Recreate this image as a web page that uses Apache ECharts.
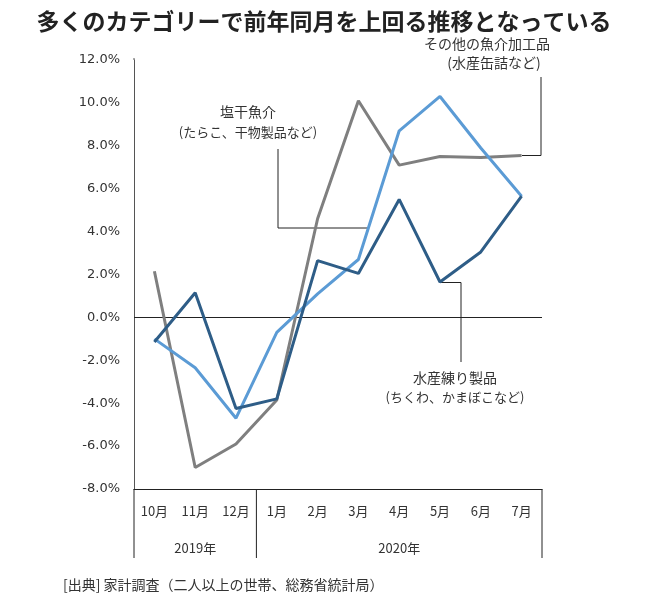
<!DOCTYPE html>
<html>
<head>
<meta charset="utf-8">
<script src="https://cdn.jsdelivr.net/npm/echarts@6/dist/echarts.min.js"></script>
<style>
html,body{margin:0;padding:0;background:#fff;}
#chart{width:650px;height:605px;}
</style>
</head>
<body>
<div id="chart"></div>
<script>
const categories = ['10月','11月','12月','1月','2月','3月','4月','5月','6月','7月'];
const otherSeafood = [2.15, -7.0, -5.9, -3.85, 4.6, 10.1, 7.1, 7.5, 7.45, 7.55];
const driedSalted = [-1.0, -2.35, -4.7, -0.7, 1.1, 2.7, 8.7, 10.3, 7.9, 5.65];
const fishPaste = [-1.15, 1.15, -4.25, -3.8, 2.65, 2.05, 5.5, 1.65, 3.05, 5.65];
const yearLabels = ['2019年', '2020年'];
const yearStarts = [0, 3];
const yearEnds = [3, 10];
const yTicks = {min: -8, max: 12, interval: 2};

const FONT = '"Noto Sans CJK JP", "Noto Sans", sans-serif';
const chart = echarts.init(document.getElementById('chart'));

const lineSeries = (name, data, color) => ({
  name, type: 'line', data, symbol: 'none',
  lineStyle: {color, width: 3}, itemStyle: {color},
  z: 3
});

chart.setOption({
  animation: false,
  textStyle: {fontFamily: FONT},
  title: {
    text: '多くのカテゴリーで前年同月を上回る推移となっている',
    left: 319, top: 5, textAlign: 'center',
    textStyle: {fontFamily: FONT, fontSize: 23, fontWeight: 'bold', color: '#222'}
  },
  grid: {left: 134, right: 108, top: 60, bottom: 116},
  xAxis: {
    type: 'category', data: categories, boundaryGap: true,
    axisLine: {onZero: false, lineStyle: {color: '#222', width: 1}},
    axisTick: {show: false},
    axisLabel: {color: '#333', fontSize: 13, margin: 16, fontFamily: FONT},
    splitLine: {show: false}
  },
  yAxis: {
    type: 'value', min: yTicks.min, max: yTicks.max, interval: yTicks.interval,
    axisLine: {show: true, lineStyle: {color: '#555', width: 1}},
    axisTick: {show: false},
    splitLine: {show: false},
    axisLabel: {color: '#333', fontSize: 13, margin: 14, fontFamily: 'Verdana, "DejaVu Sans", sans-serif',
      formatter: v => v.toFixed(1) + '%'}
  },
  series: [
    Object.assign(lineSeries('その他の魚介加工品', otherSeafood, '#7f7f7f'), {
      markLine: {silent: true, symbol: 'none', label: {show: false},
        lineStyle: {color: '#222', width: 1, type: 'solid'}, data: [{yAxis: 0}], z: 2}
    }),
    lineSeries('塩干魚介', driedSalted, '#5b9bd5'),
    lineSeries('水産練り製品', fishPaste, '#2e5d87')
  ]
});

// group dividers and year labels computed from the axis scale
const c0 = chart.convertToPixel({xAxisIndex: 0}, 0);
const c1 = chart.convertToPixel({xAxisIndex: 0}, 1);
const band = c1 - c0;
const bottomY = chart.convertToPixel({yAxisIndex: 0}, yTicks.min);
const edge = i => c0 - band / 2 + band * i;
const graphics = [];
const boundaries = [...new Set(yearStarts.concat(yearEnds))];
boundaries.forEach(b => {
  graphics.push({type: 'line', shape: {x1: edge(b), y1: bottomY, x2: edge(b), y2: bottomY + 69},
    style: {stroke: '#222', lineWidth: 1}, silent: true});
});
yearLabels.forEach((lab, i) => {
  graphics.push({type: 'text', x: (edge(yearStarts[i]) + edge(yearEnds[i])) / 2, y: bottomY + 59,
    style: {text: lab, fill: '#333', font: '13px ' + FONT, textAlign: 'center', textVerticalAlign: 'middle'}});
});

// annotations
const annText = (x, y, t, s) => ({type: 'text', x, y,
  style: {text: t, fill: '#333', font: (s || 14) + 'px ' + FONT, textAlign: 'center', textVerticalAlign: 'middle'}});
const lineStyle = {stroke: '#222', lineWidth: 1};
graphics.push(annText(248, 112, '塩干魚介', 14));
graphics.push(annText(248, 132, '(たらこ、干物製品など)', 13));
graphics.push({type: 'polyline', shape: {points: [[278, 149], [278, 228], [368, 228]]}, style: lineStyle, silent: true});
graphics.push(annText(487, 44, 'その他の魚介加工品', 14));
graphics.push(annText(494, 63, '(水産缶詰など)', 14));
graphics.push({type: 'polyline', shape: {points: [[541, 77], [541, 155.5], [522, 155.5]]}, style: lineStyle, silent: true});
graphics.push(annText(455, 378, '水産練り製品', 14));
graphics.push(annText(455, 397, '(ちくわ、かまぼこなど)', 13));
graphics.push({type: 'polyline', shape: {points: [[441, 282.5], [461, 282.5], [461, 362]]}, style: lineStyle, silent: true});
graphics.push({type: 'text', x: 63, y: 585,
  style: {text: '[出典] 家計調査（二人以上の世帯、総務省統計局）', fill: '#333', font: '14px ' + FONT, textVerticalAlign: 'middle'}});
graphics.push({type: 'line', shape: {x1: edge(0), y1: 58, x2: edge(0), y2: 60}, style: {stroke: '#555', lineWidth: 1}});

chart.setOption({graphic: graphics});
</script>
</body>
</html>
